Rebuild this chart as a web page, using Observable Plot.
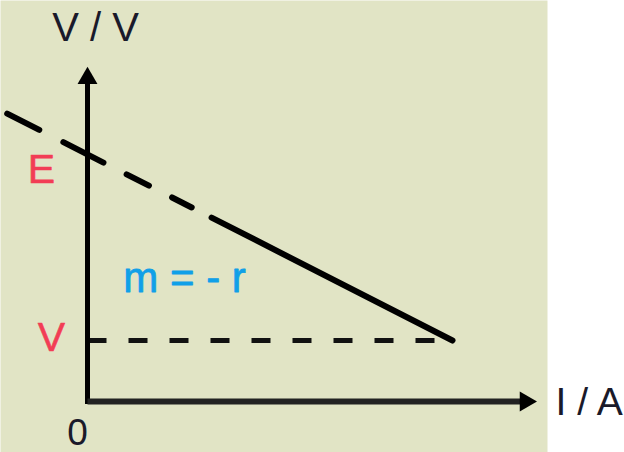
<!DOCTYPE html>
<html><head><meta charset="utf-8">
<script src="https://cdn.jsdelivr.net/npm/d3@7"></script>
<script src="https://cdn.jsdelivr.net/npm/@observablehq/plot@0.6"></script>
<style>html,body{margin:0;padding:0;background:#fff} #chart svg{display:block}</style>
</head><body><div id="chart"></div>
<script>
// V–I characteristic of a cell (values in chart units)
const emf = 8.1;              // E : intercept on the V axis
const terminalV = 2;          // V : terminal voltage at the operating point
const currentI = 10;          // I at the operating point
const dashedI = [-2.2, 3.4];  // extrapolated (dashed) part of the line
const dashedV = [9.44, 6.03];
const solidI = [3.4, 10];     // measured (solid) part of the line
const solidV = [6.03, 2];
const axisMax = {i: 12, v: 10.6};
const axisTitles = ["I / A", "V / V"];
const pointLabels = ["E", "V", "0"];
const slopeLabel = "m = - r";
const slopeLabelAt = {i: 2.66, v: 4.03};

const font = "Liberation Sans, Arial, sans-serif";
const dashed = dashedI.map((i, k) => ({i, v: dashedV[k]}));
const solid = solidI.map((i, k) => ({i, v: solidV[k]}));

const chart = Plot.plot({
  width: 624, height: 452,
  marginLeft: 0, marginTop: 0, marginBottom: 0, marginRight: 77,
  style: {background: "#fff", overflow: "visible"},
  x: {domain: [0, 10], range: [87, 452], axis: null},
  y: {domain: [0, 2], range: [401, 340], axis: null},
  marks: [
    Plot.frame({fill: "#e1e4c5", stroke: "none"}),
    // V level dashed
    Plot.link([{i1: 0, i2: currentI, v: terminalV}], {x1: "i1", x2: "i2", y1: "v", y2: "v", stroke: "#111", strokeWidth: 5, strokeDasharray: "19,22"}),
    // extrapolated dashed line
    Plot.line(dashed, {x: "i", y: "v", stroke: "#000", strokeWidth: 6, strokeDasharray: "36,27,45,26,25,26,22,23"}),
    // solid line
    Plot.line(solid, {x: "i", y: "v", stroke: "#000", strokeWidth: 6}),
    // axes
    Plot.link([{i1: 0, v1: 0, i2: 0, v2: axisMax.v}], {x1: "i1", y1: "v1", x2: "i2", y2: "v2", stroke: "#000", strokeWidth: 5, strokeLinecap: "square"}),
    Plot.link([{i1: 0, v1: 0, i2: axisMax.i, v2: 0}], {x1: "i1", y1: "v1", x2: "i2", y2: "v2", stroke: "#222", strokeWidth: 6, strokeLinecap: "butt"}),
    Plot.dot([{i: 0, v: axisMax.v, a: 0}, {i: axisMax.i, v: 0, a: 90}], {x: "i", y: "v", rotate: "a", symbol: "triangle", r: 7.4, fill: "#000", stroke: "none"}),
    // axis titles
    Plot.text([axisTitles[0]], {x: axisMax.i, y: 0, dx: 30, dy: 1, text: d => d, fontSize: 39, fontFamily: font, fill: "#1a1a2a", textAnchor: "start"}),
    Plot.text([axisTitles[1]], {x: 0, y: axisMax.v, dx: 8, dy: -50, text: d => d, fontSize: 40, fontFamily: font, fill: "#1a1a2a", textAnchor: "middle"}),
    // point labels
    Plot.text([pointLabels[0]], {x: 0, y: emf, dx: -46, dy: 15, text: d => d, fontSize: 41, fontFamily: font, fill: "#f23d55", stroke: "#f23d55", strokeWidth: 0.6, textAnchor: "middle"}),
    Plot.text([pointLabels[1]], {x: 0, y: terminalV, dx: -36, dy: -3, text: d => d, fontSize: 41, fontFamily: font, fill: "#f23d55", stroke: "#f23d55", strokeWidth: 0.6, textAnchor: "middle"}),
    Plot.text([pointLabels[2]], {x: 0, y: 0, dx: -10, dy: 32, text: d => d, fontSize: 37, fontFamily: font, fill: "#1a1a2a", textAnchor: "middle"}),
    // slope label
    Plot.text([slopeLabel], {x: slopeLabelAt.i, y: slopeLabelAt.v, text: d => d, fontSize: 42, fontFamily: font, fill: "#10a0e8", stroke: "#10a0e8", strokeWidth: 0.8, textAnchor: "middle"})
  ]
});
document.getElementById("chart").append(chart);
</script>
</body></html>
